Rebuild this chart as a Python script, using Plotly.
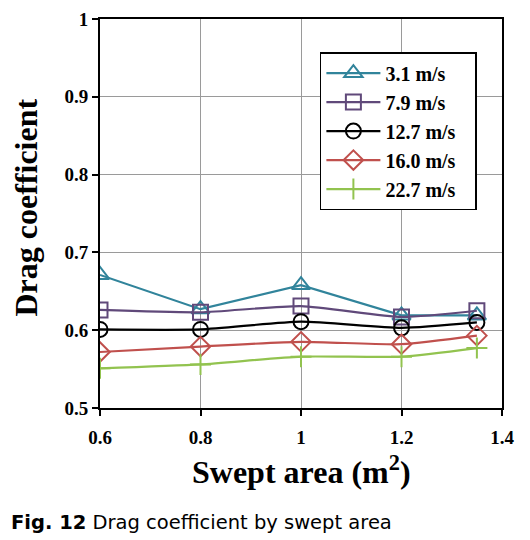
import plotly.graph_objects as go

swept_area = [0.6, 0.8, 1.0, 1.2, 1.35]
series_names = ["3.1 m/s", "7.9 m/s", "12.7 m/s", "16.0 m/s", "22.7 m/s"]
cd_31 = [0.671, 0.627, 0.658, 0.619, 0.619]
cd_79 = [0.626, 0.623, 0.631, 0.617, 0.625]
cd_127 = [0.601, 0.601, 0.611, 0.603, 0.610]
cd_160 = [0.572, 0.579, 0.585, 0.582, 0.593]
cd_227 = [0.551, 0.556, 0.566, 0.566, 0.577]

colors = ["#31849B", "#60497A", "#000000", "#C0504D", "#92C34F"]
symbols = ["triangle-up-open", "square-open", "circle-open", "diamond-open", "cross-thin-open"]
shapes = ["linear", "spline", "spline", "spline", "spline"]
sizes = [16, 15, 15, 15, 15]

fig = go.Figure()
for name, ys, c, s, sh, sz in zip(series_names, [cd_31, cd_79, cd_127, cd_160, cd_227],
                                  colors, symbols, shapes, sizes):
    fig.add_trace(go.Scatter(
        x=swept_area, y=ys, name="<b>" + name + "</b>&nbsp;&nbsp;&nbsp;", mode="lines+markers",
        line=dict(color=c, width=2.2, shape=sh, smoothing=0.6),
        marker=dict(symbol=s, size=sz, color=c, line=dict(color=c, width=2)),
    ))

serif = "Liberation Serif, Times New Roman, serif"
axis_font = dict(family=serif, size=19, color="black")
fig.update_layout(
    width=522, height=532,
    margin=dict(l=92, r=28, t=11, b=132),
    paper_bgcolor="white", plot_bgcolor="white",
    showlegend=True,
    legend=dict(
        x=0.547, y=0.915, xanchor="left", yanchor="top",
        bgcolor="white", bordercolor="black", borderwidth=1.5,
        font=dict(family=serif, size=20, color="black"),
        tracegroupgap=0, itemwidth=54,
    ),
    xaxis=dict(
        range=[0.6, 1.4], dtick=0.2, tick0=0.6, automargin=False,
        showgrid=True, gridcolor="#9a9a9a", gridwidth=1,
        showline=True, linecolor="black", linewidth=2, mirror=True,
        ticks="outside", ticklen=6, tickcolor="black", tickwidth=1.5,
        tickfont=axis_font, zeroline=False, ticklabelstandoff=5,
        tickformat="~g",
    ),
    yaxis=dict(
        range=[0.5, 1.0], dtick=0.1, tick0=0.5, automargin=False,
        showgrid=True, gridcolor="#9a9a9a", gridwidth=1,
        showline=True, linecolor="black", linewidth=2, mirror=True,
        ticks="outside", ticklen=6, tickcolor="black", tickwidth=1.5,
        tickfont=axis_font, zeroline=False,
        tickformat="~g",
    ),
)
fig.update_xaxes(tickprefix="<b>", ticksuffix="</b>")
fig.update_yaxes(tickprefix="<b>", ticksuffix="</b>")

# axis titles
fig.add_annotation(
    x=0.5, y=0, xref="paper", yref="paper", xanchor="center", yanchor="middle",
    xshift=0, yshift=-62,
    text="<b>Swept area (m<sup>2</sup>)</b>", showarrow=False,
    font=dict(family=serif, size=32, color="black"),
)
fig.add_annotation(
    x=0, y=0.5, xref="paper", yref="paper", xanchor="center", yanchor="middle",
    xshift=-75, yshift=6, textangle=-90,
    text="<b>Drag coefficient</b>", showarrow=False,
    font=dict(family=serif, size=32, color="black"),
)

fig.add_annotation(
    x=0, y=0, xref="paper", yref="paper", xanchor="left", yanchor="middle",
    xshift=-91, yshift=-114,
    text="<b>Fig. 12</b> Drag coefficient by swept area",
    showarrow=False,
    font=dict(family="DejaVu Sans, sans-serif", size=19.5, color="black"),
)

fig.write_html("out.html")
